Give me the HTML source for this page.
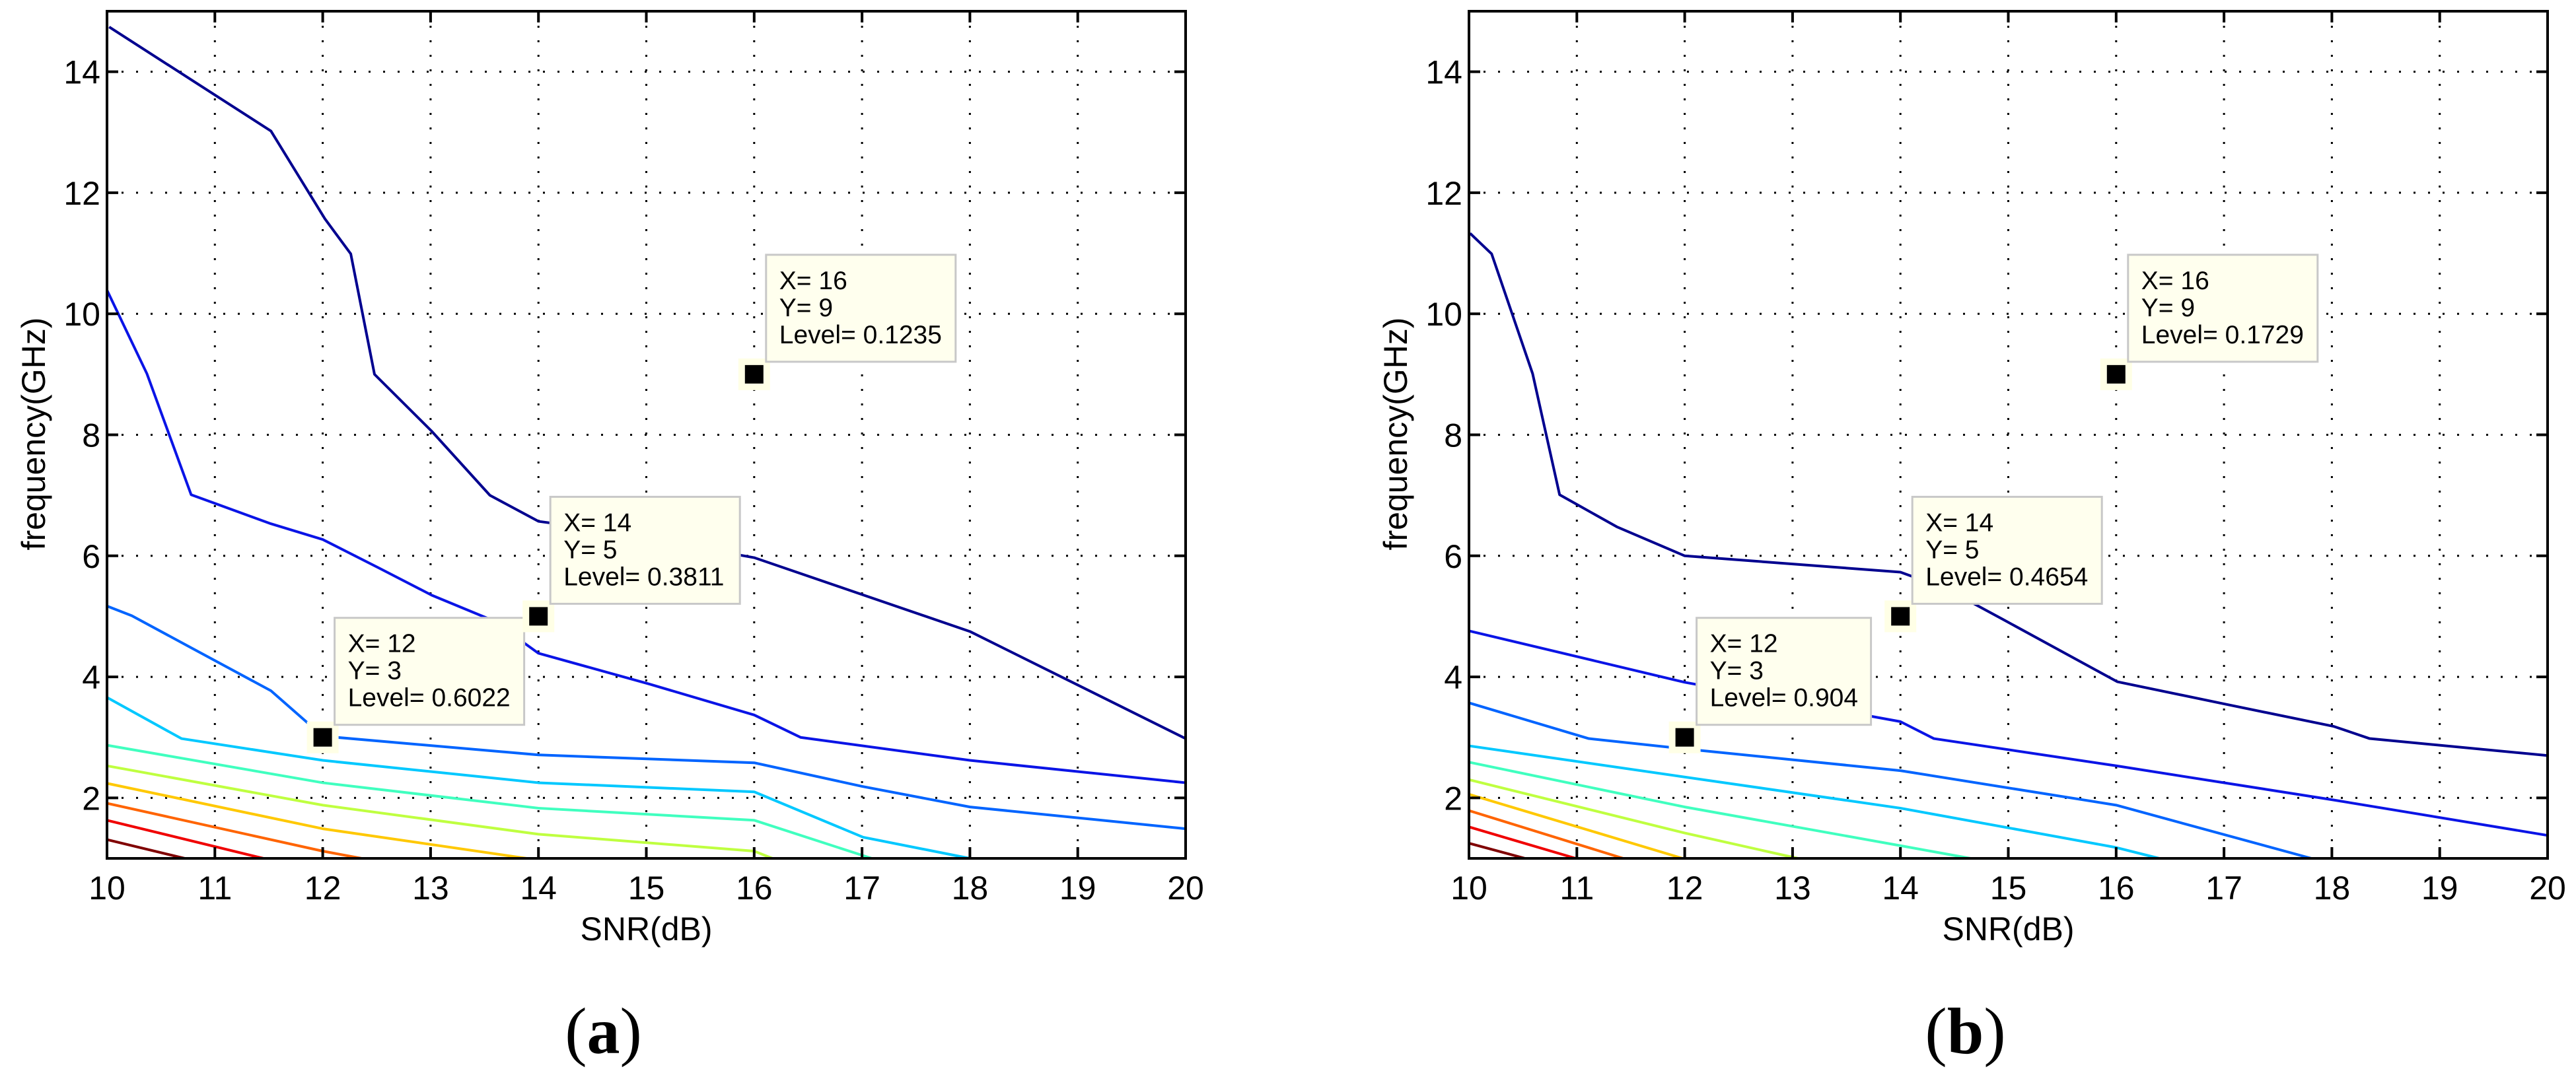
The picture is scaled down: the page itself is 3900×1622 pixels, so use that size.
<!DOCTYPE html>
<html><head><meta charset="utf-8">
<style>
html,body{margin:0;padding:0;background:#fff;}
svg{display:block;}
text{font-family:"Liberation Sans",sans-serif;}
</style></head>
<body>
<svg id="fig" width="3900" height="1622" viewBox="0 0 3900 1622" xmlns="http://www.w3.org/2000/svg"></svg>
<script>
const xTicks = [10,11,12,13,14,15,16,17,18,19,20];
const yTicks = [2,4,6,8,10,12,14];
const levelColors = ['#00008F','#0A14E6','#0064FF','#00C8FF','#40FFBF','#BFFF40','#FFC800','#FF6400','#F00000','#800000'];

// panel (a) contour lines: x (SNR) and y (frequency) arrays
const aX = [
 [10.02,11.52,12.02,12.26,12.48,13.01,13.55,14.0,14.5,16.0,18.0,20.0],
 [10,10.37,10.78,11.52,12.0,12.52,13.01,13.58,14.0,15.03,16.0,16.43,18,20],
 [10,10.23,10.76,11.52,12.0,14,16,17,18,20],
 [10,10.69,12,14,16,17.01,18],
 [10,12,14,16,17.09],
 [10,12,14,16,16.17],
 [10,12,13.89],
 [10,12,12.36],
 [10,11.45],
 [10,10.72]
];
const aY = [
 [14.74,13.02,11.57,10.99,9.0,8.06,7.0,6.57,6.45,5.97,4.75,2.98],
 [10.39,9.01,7.01,6.53,6.27,5.80,5.35,4.93,4.39,3.88,3.37,3.0,2.62,2.25],
 [5.17,5.01,4.5,3.77,3.02,2.71,2.58,2.19,1.85,1.49],
 [3.66,2.98,2.62,2.25,2.1,1.35,1.0],
 [2.87,2.25,1.83,1.63,1.0],
 [2.53,1.88,1.4,1.12,1.0],
 [2.24,1.49,1.0],
 [1.91,1.12,1.0],
 [1.63,1.0],
 [1.31,1.0]
];
// panel (b)
const bX = [
 [10.01,10.21,10.59,10.84,11.37,12.0,14.0,14.42,14.95,16.01,17.01,18.02,18.35,20],
 [10,12,14,14.31,16,18,20],
 [10,11.11,12,14,16,17.81],
 [10,14,16,16.4],
 [10,12,14,14.65],
 [10,12,13.05],
 [10,11.98],
 [10,11.43],
 [10,10.99],
 [10,10.52]
];
const bY = [
 [11.33,10.99,9.01,7.01,6.48,6.0,5.73,5.46,4.95,3.92,3.55,3.18,2.98,2.70],
 [4.76,3.91,3.26,2.98,2.53,1.97,1.38],
 [3.57,2.98,2.81,2.45,1.88,1.0],
 [2.86,1.83,1.18,1.0],
 [2.59,1.85,1.21,1.0],
 [2.3,1.42,1.0],
 [2.06,1.0],
 [1.79,1.0],
 [1.52,1.0],
 [1.25,1.0]
];
const tipX = [12,14,16];
const tipY = [3,5,9];
const aLevels = ['0.6022','0.3811','0.1235'];
const bLevels = ['0.904','0.4654','0.1729'];

const NS = 'http://www.w3.org/2000/svg';
const svg = document.getElementById('fig');
function mk(tag, attrs, parent){
  const e = document.createElementNS(NS, tag);
  for (const k in attrs) e.setAttribute(k, attrs[k]);
  (parent||svg).appendChild(e);
  return e;
}

function panel(left, xs, ys, levels, tag, name){
  const right = left + 1633, top = 17, bottom = 1300;
  const sx = v => left + (v-10)/10*(right-left);
  const sy = v => bottom - (v-1)/14*(bottom-top);
  const g = mk('g', {});
  
  
  xTicks.forEach(t => {
    if (t===10||t===20) return;
    const l = mk('line',{x1:sx(t),x2:sx(t),y1:top,y2:bottom,stroke:'#000','stroke-width':3,'stroke-dasharray':'3 19'}, g);
    
    
  });
  yTicks.forEach(t => {
    const l = mk('line',{x1:left,x2:right,y1:sy(t),y2:sy(t),stroke:'#000','stroke-width':3,'stroke-dasharray':'3 19'}, g);
    
    
  });
  xs.forEach((arr, i) => {
    const pts = arr.map((x,j) => sx(x)+','+sy(ys[i][j])).join(' ');
    const p = mk('polyline',{points:pts,fill:'none',stroke:levelColors[i],'stroke-width':4,'stroke-linejoin':'round'}, g);
    
    
  });
  const box = mk('rect',{x:left,y:top,width:right-left,height:bottom-top,fill:'none',stroke:'#000','stroke-width':4}, g);
  
  
  xTicks.forEach(t => {
    mk('line',{x1:sx(t),x2:sx(t),y1:bottom,y2:bottom-17,stroke:'#000','stroke-width':4}, g);
    mk('line',{x1:sx(t),x2:sx(t),y1:top,y2:top+17,stroke:'#000','stroke-width':4}, g);
    const tx = mk('text',{x:sx(t),y:1362,'font-size':50,'text-anchor':'middle',fill:'#000'}, g);
    tx.textContent = t;
    
    
  });
  yTicks.forEach(t => {
    mk('line',{x1:left,x2:left+17,y1:sy(t),y2:sy(t),stroke:'#000','stroke-width':4}, g);
    mk('line',{x1:right,x2:right-17,y1:sy(t),y2:sy(t),stroke:'#000','stroke-width':4}, g);
    const tx = mk('text',{x:left-10,y:sy(t)+18,'font-size':50,'text-anchor':'end',fill:'#000'}, g);
    tx.textContent = t;
    
    
  });
  const xl = mk('text',{x:(left+right)/2,y:1424,'font-size':50,'text-anchor':'middle',fill:'#000'}, g);
  xl.textContent = 'SNR(dB)';
  
  
  const yx = left - 112, yy = 657;
  const yl = mk('text',{x:yx,y:yy,'font-size':50,'text-anchor':'middle',fill:'#000',transform:`rotate(-90 ${yx} ${yy}) translate(0 18)`}, g);
  yl.textContent = 'frequency(GHz)';
  
  
  tipX.forEach((x,i) => {
    const mx = sx(x), my = sy(tipY[i]);
    const bg = mk('rect',{x:mx-24,y:my-24,width:48,height:48,fill:'#ffffe6'}, g);
    
    
    const m = mk('rect',{x:mx-14,y:my-14,width:28,height:28,fill:'#000'}, g);
    
    
    const w = levels[i].length > 5 ? 287 : 264;
    const bx = mx+18, by = my-181;
    const r = mk('rect',{x:bx,y:by,width:w,height:162,fill:'#ffffee',stroke:'#c8c8c8','stroke-width':3}, g);
    
    
    const lines = ['X= '+x, 'Y= '+tipY[i], 'Level= '+levels[i]];
    lines.forEach((s,k) => {
      const t = mk('text',{x:bx+20,y:by+52+k*41,'font-size':39,fill:'#000'}, g);
      t.textContent = s;
      
      
    });
  });
  const cap = mk('text',{x:(left+right)/2 - 65,y:1595,'font-size':100,'text-anchor':'middle',fill:'#000',style:'font-family:"Liberation Serif",serif'}, g);
  cap.innerHTML = '(<tspan font-weight="bold">'+tag+'</tspan>)';
  
  
}
panel(162, aX, aY, aLevels, 'a', 'panel-a');
panel(2224, bX, bY, bLevels, 'b', 'panel-b');
</script>
</body></html>
